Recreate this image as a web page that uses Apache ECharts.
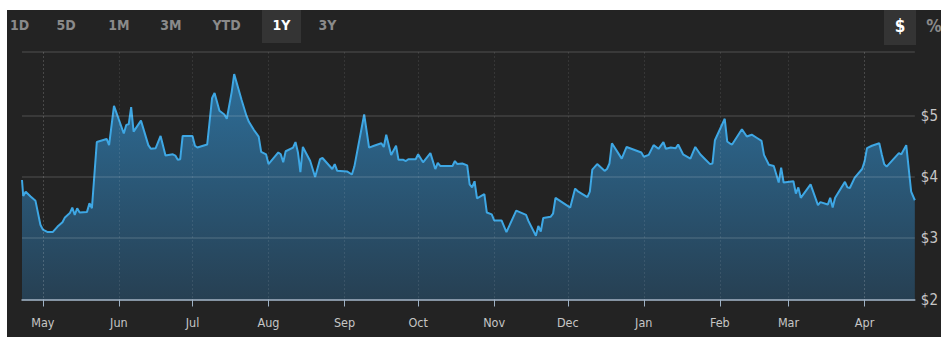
<!DOCTYPE html>
<html><head><meta charset="utf-8">
<script src="https://cdn.jsdelivr.net/npm/echarts@6/dist/echarts.min.js"></script>
<style>
html,body{margin:0;padding:0;background:#fff;width:941px;height:337px;overflow:hidden;}
#panel{position:absolute;left:7px;top:10px;width:934px;height:327px;background:#232323;}
#chart{position:absolute;left:0;top:0;width:941px;height:337px;}
</style></head><body>
<div id="panel"></div><div id="chart"></div>
<script>
const dates = [
'2018-04-22 12:00','2018-04-23','2018-04-24','2018-04-26','2018-04-28','2018-04-30','2018-05-01','2018-05-03','2018-05-05','2018-05-07',
'2018-05-09','2018-05-10','2018-05-12','2018-05-13','2018-05-14','2018-05-15','2018-05-16','2018-05-19','2018-05-20','2018-05-21',
'2018-05-23','2018-05-27','2018-05-28','2018-05-30','2018-06-03','2018-06-04','2018-06-05','2018-06-06','2018-06-07','2018-06-10',
'2018-06-13','2018-06-14','2018-06-16','2018-06-18','2018-06-20','2018-06-23','2018-06-24','2018-06-25','2018-06-26','2018-06-27',
'2018-07-01','2018-07-02','2018-07-03','2018-07-07','2018-07-09','2018-07-10','2018-07-12','2018-07-14','2018-07-15','2018-07-17',
'2018-07-18','2018-07-21','2018-07-23','2018-07-24','2018-07-26','2018-07-28','2018-07-29','2018-07-31','2018-08-01','2018-08-05',
'2018-08-06','2018-08-07','2018-08-08','2018-08-11','2018-08-12','2018-08-13','2018-08-14','2018-08-15','2018-08-18','2018-08-20',
'2018-08-22','2018-08-23','2018-08-27','2018-08-28','2018-08-29','2018-09-02','2018-09-04','2018-09-05','2018-09-09','2018-09-11',
'2018-09-13','2018-09-16','2018-09-17','2018-09-18','2018-09-20','2018-09-22','2018-09-23','2018-09-25','2018-09-26','2018-09-27',
'2018-09-30','2018-10-01','2018-10-03','2018-10-06','2018-10-08','2018-10-09','2018-10-10','2018-10-15','2018-10-16','2018-10-17',
'2018-10-19','2018-10-21','2018-10-22','2018-10-23','2018-10-24','2018-10-25','2018-10-28','2018-10-29','2018-10-31','2018-11-01',
'2018-11-04','2018-11-06','2018-11-10','2018-11-14','2018-11-15','2018-11-18','2018-11-19','2018-11-20','2018-11-21','2018-11-24',
'2018-11-25','2018-11-26','2018-12-02','2018-12-04','2018-12-05','2018-12-09','2018-12-10','2018-12-11','2018-12-13','2018-12-16',
'2018-12-17','2018-12-18','2018-12-19','2018-12-23','2018-12-25','2018-12-31','2019-01-01','2019-01-03','2019-01-05','2019-01-07',
'2019-01-09','2019-01-10','2019-01-12','2019-01-14','2019-01-15','2019-01-17','2019-01-20','2019-01-22','2019-01-24','2019-01-26',
'2019-01-28','2019-01-29','2019-01-30','2019-02-03','2019-02-04','2019-02-05','2019-02-06','2019-02-10','2019-02-12','2019-02-14',
'2019-02-16','2019-02-18','2019-02-19','2019-02-21','2019-02-23','2019-02-25','2019-02-26','2019-02-27','2019-03-03','2019-03-04',
'2019-03-05','2019-03-06','2019-03-10','2019-03-13','2019-03-14','2019-03-17','2019-03-18','2019-03-19','2019-03-20','2019-03-24',
'2019-03-25','2019-03-26','2019-03-28','2019-03-31','2019-04-01','2019-04-02','2019-04-04','2019-04-07','2019-04-08','2019-04-09',
'2019-04-10','2019-04-15','2019-04-16','2019-04-18','2019-04-20','2019-04-21 12:00'
];
const prices = [
3.95,3.69,3.76,3.68,3.61,3.22,3.14,3.10,3.10,3.19,
3.26,3.34,3.41,3.50,3.38,3.49,3.42,3.43,3.57,3.49,
4.57,4.62,4.52,5.16,4.71,4.85,4.86,5.14,4.74,4.92,
4.52,4.46,4.47,4.67,4.35,4.37,4.35,4.28,4.29,4.67,
4.67,4.51,4.48,4.53,5.29,5.37,5.08,5.02,4.95,5.39,
5.68,5.26,5.00,4.90,4.77,4.66,4.41,4.37,4.21,4.40,
4.37,4.24,4.42,4.48,4.57,4.40,4.08,4.49,4.26,4.00,
4.29,4.31,4.13,4.21,4.10,4.09,4.04,4.17,5.02,4.48,
4.51,4.55,4.49,4.69,4.36,4.51,4.28,4.28,4.26,4.29,
4.29,4.37,4.24,4.39,4.13,4.23,4.18,4.18,4.26,4.21,
4.22,4.19,3.88,3.83,3.93,3.65,3.72,3.42,3.39,3.29,
3.29,3.10,3.45,3.38,3.28,3.04,3.20,3.11,3.33,3.35,
3.40,3.66,3.50,3.81,3.77,3.67,3.76,4.12,4.21,4.10,
4.13,4.22,4.55,4.30,4.49,4.40,4.33,4.36,4.52,4.46,
4.57,4.46,4.48,4.47,4.53,4.37,4.30,4.49,4.37,4.29,
4.21,4.22,4.60,4.95,4.58,4.55,4.53,4.78,4.66,4.69,
4.64,4.59,4.36,4.20,4.18,3.91,4.15,3.91,3.93,3.73,
3.83,3.66,3.88,3.54,3.59,3.55,3.66,3.50,3.66,3.92,
3.83,3.82,3.99,4.13,4.25,4.47,4.51,4.55,4.37,4.21,
4.17,4.39,4.37,4.52,3.76,3.62
];
const xRange = ['2018-04-22 12:00', '2019-04-21 12:00'];
const monthTicks = ['2018-05-01','2018-06-01','2018-07-01','2018-08-01','2018-09-01','2018-10-01',
  '2018-11-01','2018-12-01','2019-01-01','2019-02-01','2019-03-01','2019-04-01'];
const yTicks = [2, 3, 4, 5];
const yRange = [2, 6.04];
const rangeButtons = ['1D','5D','1M','3M','YTD','1Y','3Y'];
const activeRange = '1Y';
const unitButtons = ['$','%'];
const activeUnit = '$';

// layout (not data)
const rangeBtnX = [19.5, 66, 119, 171, 226.5, 281.5, 327.5];
const unitBtnX = [900, 934];
const FONT = '"Liberation Sans Narrow","DejaVu Sans Condensed","Roboto",sans-serif';

const toTime = s => echarts.number.parseDate(s).getTime();
const monthTickValues = monthTicks.map(toTime);
const yGridValues = yTicks.concat([yRange[1]]);

const graphics = [];
rangeButtons.forEach((b, i) => {
  if (b === activeRange) {
    graphics.push({type:'rect', shape:{x:262, y:10, width:39, height:33}, style:{fill:'#343434'}, z:1});
  }
  graphics.push({type:'text', x:rangeBtnX[i], y:25, z:2, style:{text:b, align:'center', verticalAlign:'middle',
    fill: b === activeRange ? '#ffffff' : '#8a8a8a', fontSize:14, fontWeight:'bold', fontFamily:FONT}});
});
unitButtons.forEach((b, i) => {
  if (b === activeUnit) {
    graphics.push({type:'rect', shape:{x:884, y:10, width:32, height:35}, style:{fill:'#343434'}, z:1});
  }
  graphics.push({type:'text', x:unitBtnX[i], y:26, z:2, style:{text:b, align:'center', verticalAlign:'middle',
    fill: b === activeUnit ? '#ffffff' : '#8a8a8a', fontSize:17, fontWeight:'bold', fontFamily:FONT}});
});

const chart = echarts.init(document.getElementById('chart'), null, {renderer:'svg', width:941, height:337});
chart.setOption({
  backgroundColor: 'transparent',
  animation: false,
  graphic: graphics,
  grid: {left:22, right:26, top:52, bottom:37.5, containLabel:false},
  xAxis: {
    type: 'time',
    min: xRange[0], max: xRange[1],
    z: 3,
    axisLine: {show:true, lineStyle:{color:'#9fb2c6', width:1.5}},
    axisTick: {show:true, length:7, customValues: monthTickValues, lineStyle:{color:'#9fb2c6', width:1}},
    axisLabel: {formatter:'{MMM}', customValues: monthTickValues, color:'#c6c6c6', fontSize:12.5, fontFamily:FONT, margin:16,
      hideOverlap:false},
    splitLine: {show:true, lineStyle:{color:'rgba(255,255,255,0.09)', type:[2,2], width:1}}
  },
  yAxis: {
    type: 'value', position: 'right',
    min: yRange[0], max: yRange[1],
    z: 3,
    axisLine: {show:false},
    axisTick: {show:false, customValues: yGridValues},
    axisLabel: {color:'#c6c6c6', fontSize:15, fontFamily:FONT, margin:6, customValues: yTicks,
      formatter: v => '$' + v},
    splitLine: {show:true, lineStyle:{color:'rgba(255,255,255,0.1)', width:2}}
  },
  series: [{
    type: 'line',
    data: dates.map((d, i) => [d, prices[i]]),
    showSymbol: false,
    symbol: 'none',
    lineStyle: {color:'#3ea7e4', width:2},
    areaStyle: {color: new echarts.graphic.LinearGradient(0, 0, 0, 1, [
      {offset:0, color:'#328ecb'}, {offset:1, color:'#284c67'}])},
    z: 2
  }]
});
</script>
</body></html>
